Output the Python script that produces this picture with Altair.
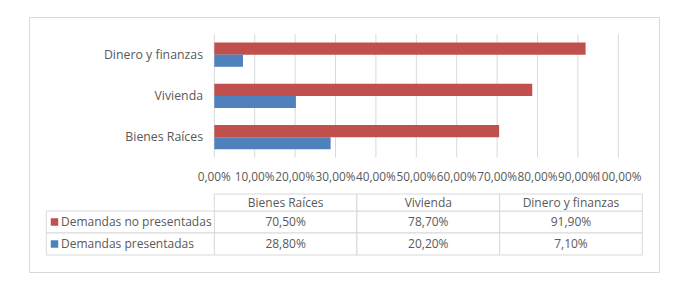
import altair as alt
import pandas as pd

categories = ["Dinero y finanzas", "Vivienda", "Bienes Raíces"]
table_columns = ["Bienes Raíces", "Vivienda", "Dinero y finanzas"]
series = ["Demandas no presentadas", "Demandas presentadas"]
no_presentadas = {"Bienes Raíces": 70.5, "Vivienda": 78.7, "Dinero y finanzas": 91.9}
presentadas = {"Bienes Raíces": 28.8, "Vivienda": 20.2, "Dinero y finanzas": 7.1}
tick_values = [0, 10, 20, 30, 40, 50, 60, 70, 80, 90, 100]
colors = ["#C0504D", "#4F81BD"]

FONT = "Open Sans"
FS = 12
TXT = "#595959"
GRID = "#D9D9D9"

def pct(v):
    return f"{v:.2f}".replace(".", ",") + "%"

rows = []
for c in table_columns:
    rows.append({"cat": c, "serie": series[0], "val": no_presentadas[c] / 100, "label": pct(no_presentadas[c])})
    rows.append({"cat": c, "serie": series[1], "val": presentadas[c] / 100, "label": pct(presentadas[c])})
df = pd.DataFrame(rows)
ticks = pd.DataFrame({"t": [v / 100 for v in tick_values], "label": [pct(v) for v in tick_values]})
cats = pd.DataFrame({"cat": categories})
cols = pd.DataFrame({"col": table_columns})
ser = pd.DataFrame({"serie": series})

xs = alt.Scale(domain=[0, 1], range=[185.3, 589.3], nice=False, zero=False)
ys = alt.Scale(type="band", domain=categories, range=[17, 140.75], paddingInner=0.41, paddingOuter=0.205)
color = alt.Color("serie:N", scale=alt.Scale(domain=series, range=colors), legend=None)

grid = alt.Chart(ticks).mark_rule(color=GRID, strokeWidth=1).encode(
    x=alt.X("t:Q", scale=xs, axis=None), y=alt.value(17), y2=alt.value(140.5))

bars = alt.Chart(df).mark_bar(cornerRadius=0).encode(
    x=alt.X("val:Q", scale=xs, axis=None),
    y=alt.Y("cat:N", scale=ys, axis=None),
    yOffset=alt.YOffset("serie:N", scale=alt.Scale(domain=series, paddingInner=0, paddingOuter=0)),
    color=color)

tick_text = alt.Chart(ticks).mark_text(font=FONT, fontSize=11.8, color=TXT, baseline="middle", align="center").encode(
    x=alt.X("t:Q", scale=xs, axis=None), y=alt.value(160), text="label:N")

cat_text = alt.Chart(cats).mark_text(font=FONT, fontSize=12.3, color=TXT, baseline="middle", align="right").encode(
    x=alt.value(174), y=alt.Y("cat:N", scale=ys, axis=None), text="cat:N")

cx = alt.Scale(type="band", domain=table_columns, range=[185.3, 613.3], paddingInner=0, paddingOuter=0)
ry = alt.Scale(type="band", domain=series, range=[194, 238], paddingInner=0, paddingOuter=0)

cells = alt.Chart(df).mark_rect(fill="white", stroke=GRID, strokeWidth=1).encode(
    x=alt.X("cat:N", scale=cx, axis=None), y=alt.Y("serie:N", scale=ry, axis=None))

head_cells = alt.Chart(cols).mark_rect(fill="white", stroke=GRID, strokeWidth=1).encode(
    x=alt.X("col:N", scale=cx, axis=None), y=alt.value(177), y2=alt.value(194))

left_cells = alt.Chart(ser).mark_rect(fill="white", stroke=GRID, strokeWidth=1).encode(
    x=alt.value(17.3), x2=alt.value(185.3), y=alt.Y("serie:N", scale=ry, axis=None))

head_text = alt.Chart(cols).mark_text(font=FONT, fontSize=FS, color=TXT, baseline="middle").encode(
    x=alt.X("col:N", scale=cx, axis=None), y=alt.value(185.5), text="col:N")

val_text = alt.Chart(df).mark_text(font=FONT, fontSize=FS, color=TXT, baseline="middle").encode(
    x=alt.X("cat:N", scale=cx, axis=None), y=alt.Y("serie:N", scale=ry, axis=None), text="label:N")

squares = alt.Chart(ser).mark_point(shape="square", filled=True, size=56, opacity=1).encode(
    x=alt.value(25.5), y=alt.Y("serie:N", scale=ry, axis=None), color=color)

row_text = alt.Chart(ser).mark_text(font=FONT, fontSize=FS, color=TXT, baseline="middle", align="left").encode(
    x=alt.value(32), y=alt.Y("serie:N", scale=ry, axis=None), text="serie:N")

chart = alt.layer(
    grid, bars, tick_text, cat_text, cells, head_cells, left_cells, head_text, val_text, squares, row_text
).resolve_scale(x="independent", y="independent").properties(
    width=630, height=255,
    padding={"left": 21, "top": 9, "right": 10, "bottom": 10},
    autosize=alt.AutoSizeParams(type="none"),
    background="white",
).configure_view(stroke=GRID, strokeWidth=1)

chart.save("out.html", embed_options={"renderer": "svg", "actions": False})
